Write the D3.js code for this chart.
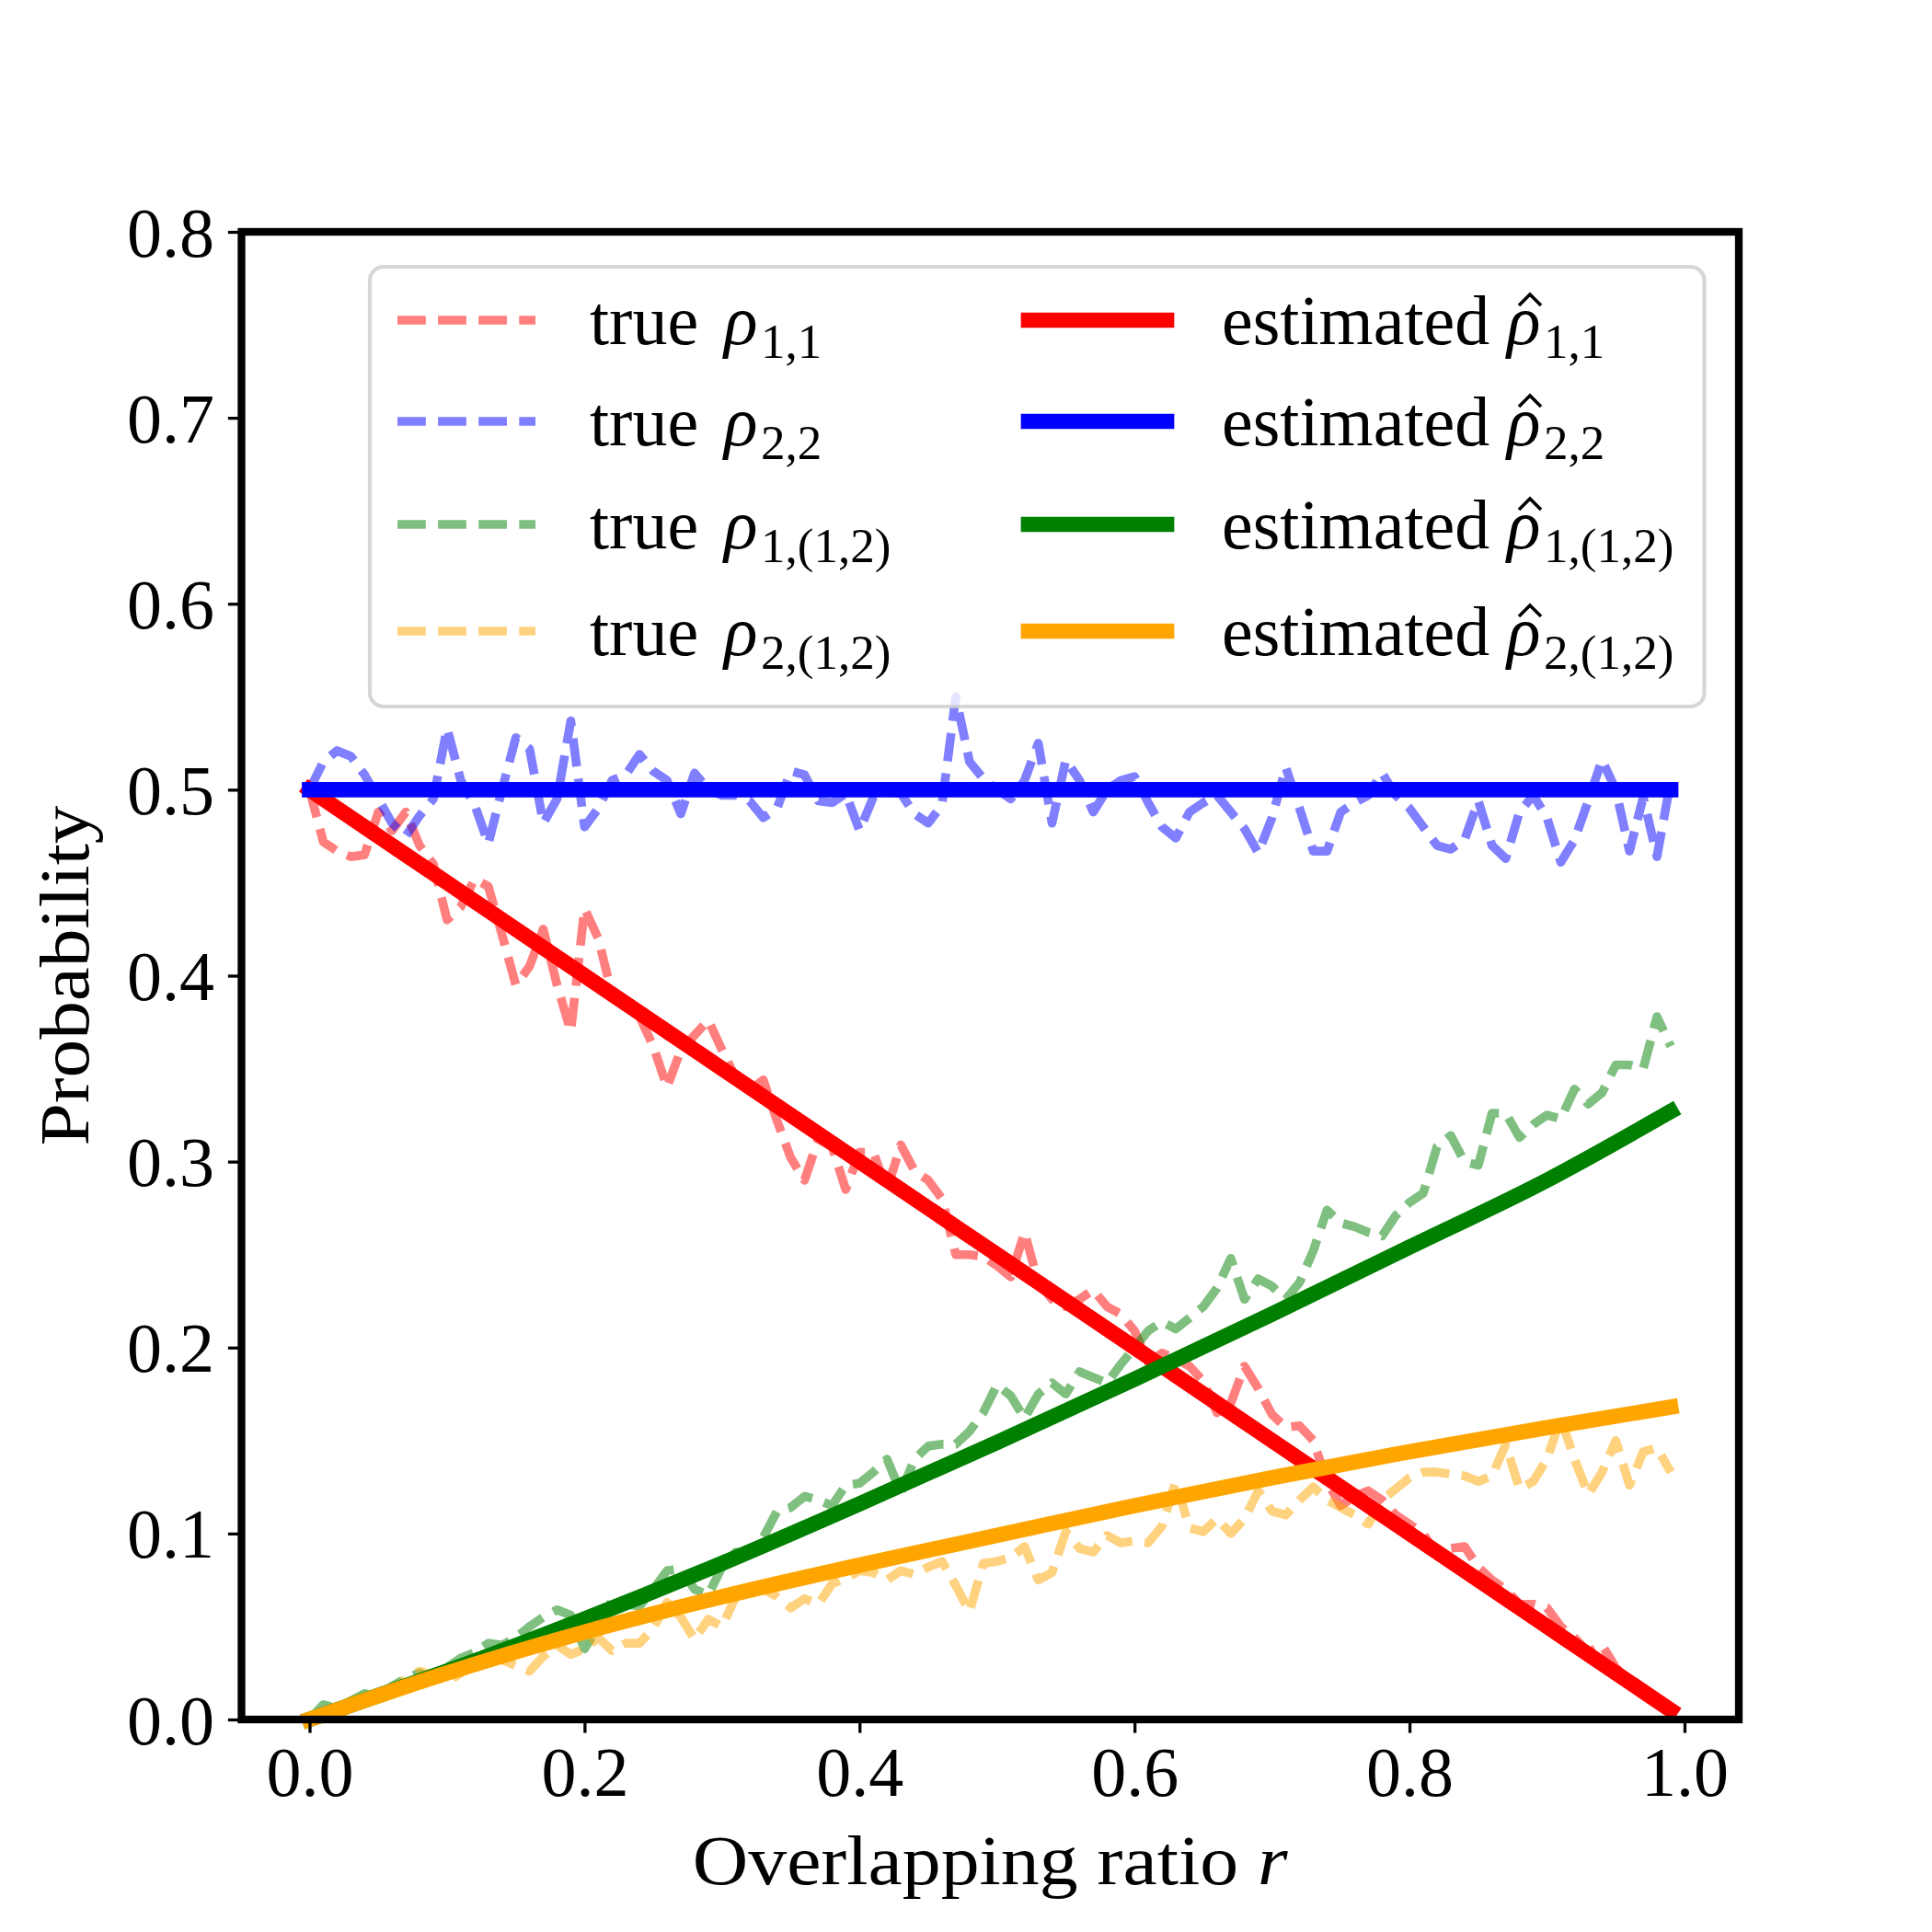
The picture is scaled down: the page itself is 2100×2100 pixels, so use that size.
<!DOCTYPE html>
<html>
<head>
<meta charset="utf-8">
<script src="https://cdn.jsdelivr.net/npm/d3@7"></script>
<style>
  html, body { margin: 0; padding: 0; background: #ffffff; }
  svg { display: block; }
</style>
</head>
<body>
<svg id="chart" width="2100" height="2100"></svg>
<script>
// ---------------- data ----------------
const ratioR = [0.00,0.01,0.02,0.03,0.04,0.05,0.06,0.07,0.08,0.09,
  0.10,0.11,0.12,0.13,0.14,0.15,0.16,0.17,0.18,0.19,
  0.20,0.21,0.22,0.23,0.24,0.25,0.26,0.27,0.28,0.29,
  0.30,0.31,0.32,0.33,0.34,0.35,0.36,0.37,0.38,0.39,
  0.40,0.41,0.42,0.43,0.44,0.45,0.46,0.47,0.48,0.49,
  0.50,0.51,0.52,0.53,0.54,0.55,0.56,0.57,0.58,0.59,
  0.60,0.61,0.62,0.63,0.64,0.65,0.66,0.67,0.68,0.69,
  0.70,0.71,0.72,0.73,0.74,0.75,0.76,0.77,0.78,0.79,
  0.80,0.81,0.82,0.83,0.84,0.85,0.86,0.87,0.88,0.89,
  0.90,0.91,0.92,0.93,0.94,0.95,0.96,0.97,0.98,0.99];

const trueRho11 = [0.500,0.472,0.467,0.464,0.465,0.488,0.478,0.488,0.470,0.460,
  0.430,0.437,0.452,0.448,0.422,0.395,0.405,0.425,0.395,0.370,
  0.436,0.420,0.390,0.386,0.378,0.362,0.340,0.360,0.368,0.376,
  0.360,0.345,0.338,0.344,0.322,0.302,0.290,0.312,0.308,0.285,
  0.305,0.305,0.285,0.309,0.295,0.290,0.280,0.250,0.250,0.249,
  0.244,0.238,0.262,0.235,0.226,0.222,0.226,0.231,0.222,0.218,
  0.209,0.192,0.197,0.194,0.190,0.182,0.165,0.170,0.190,0.178,
  0.164,0.157,0.158,0.150,0.128,0.115,0.120,0.123,0.118,0.110,
  0.105,0.100,0.088,0.092,0.093,0.082,0.075,0.070,0.062,0.062,
  0.060,0.050,0.044,0.036,0.040,0.028,0.020,0.014,0.008,0.004];

const trueRho22 = [0.500,0.515,0.521,0.518,0.508,0.495,0.482,0.475,0.486,0.495,
  0.533,0.505,0.492,0.471,0.500,0.528,0.522,0.482,0.495,0.537,
  0.480,0.490,0.505,0.508,0.519,0.510,0.505,0.487,0.509,0.500,
  0.497,0.497,0.494,0.485,0.490,0.510,0.508,0.494,0.493,0.498,
  0.478,0.496,0.499,0.498,0.487,0.482,0.492,0.550,0.515,0.506,
  0.500,0.495,0.505,0.525,0.482,0.516,0.505,0.488,0.500,0.505,
  0.507,0.493,0.480,0.474,0.488,0.493,0.497,0.488,0.479,0.466,
  0.485,0.512,0.490,0.467,0.467,0.488,0.493,0.497,0.509,0.497,
  0.490,0.480,0.470,0.468,0.473,0.494,0.470,0.463,0.488,0.497,
  0.485,0.461,0.473,0.494,0.516,0.500,0.467,0.496,0.464,0.505];

const trueRho1_12 = [0.000,0.008,0.006,0.010,0.014,0.012,0.018,0.022,0.025,0.022,
  0.028,0.033,0.036,0.041,0.040,0.044,0.050,0.055,0.059,0.056,
  0.038,0.050,0.064,0.062,0.061,0.070,0.080,0.081,0.070,0.067,
  0.082,0.090,0.089,0.098,0.112,0.114,0.120,0.118,0.115,0.126,
  0.127,0.133,0.140,0.122,0.140,0.147,0.148,0.148,0.155,0.165,
  0.180,0.174,0.162,0.175,0.181,0.175,0.187,0.184,0.181,0.191,
  0.200,0.209,0.214,0.210,0.216,0.222,0.232,0.248,0.226,0.237,
  0.233,0.226,0.235,0.252,0.274,0.267,0.265,0.262,0.260,0.271,
  0.278,0.283,0.308,0.314,0.300,0.298,0.326,0.326,0.313,0.320,
  0.325,0.323,0.339,0.331,0.337,0.352,0.352,0.350,0.378,0.362];

const trueRho2_12 = [0.000,0.003,0.006,0.010,0.012,0.010,0.014,0.022,0.026,0.024,
  0.020,0.025,0.030,0.033,0.032,0.029,0.026,0.034,0.040,0.035,
  0.038,0.044,0.037,0.041,0.041,0.049,0.063,0.055,0.043,0.054,
  0.050,0.066,0.068,0.070,0.066,0.060,0.065,0.062,0.073,0.076,
  0.080,0.079,0.075,0.080,0.078,0.082,0.085,0.072,0.058,0.084,
  0.085,0.087,0.093,0.075,0.079,0.101,0.092,0.090,0.099,0.095,
  0.096,0.095,0.104,0.128,0.103,0.101,0.108,0.100,0.108,0.123,
  0.112,0.110,0.118,0.125,0.118,0.114,0.110,0.105,0.118,0.124,
  0.130,0.133,0.133,0.132,0.131,0.128,0.131,0.148,0.124,0.128,
  0.140,0.162,0.140,0.121,0.133,0.150,0.126,0.144,0.146,0.133];

const estR        = [0.00, 0.10, 0.20, 0.30, 0.40, 0.50, 0.60, 0.70, 0.80, 0.90, 0.99];
const estRho11    = [0.500,0.450,0.400,0.350,0.300,0.250,0.200,0.150,0.100,0.050,0.005];
const estRho22    = [0.500,0.500,0.500,0.500,0.500,0.500,0.500,0.500,0.500,0.500,0.500];
const estRho1_12  = [0.000,0.026,0.054,0.084,0.116,0.149,0.183,0.218,0.254,0.290,0.327];
const estRho2_12  = [0.000,0.025,0.047,0.066,0.083,0.099,0.115,0.130,0.144,0.157,0.168];

const xTicks = [0.0, 0.2, 0.4, 0.6, 0.8, 1.0];
const yTicks = [0.0, 0.1, 0.2, 0.3, 0.4, 0.5, 0.6, 0.7, 0.8];
const xLabelRoman = "Overlapping ratio ";
const xLabelItalic = "r";
const yLabel = "Probability";

const seriesColors = ["#ff0000", "#0000ff", "#008000", "#ffa500"];
const subs = ["1,1", "2,2", "1,(1,2)", "2,(1,2)"];

(function draw() {
  const FONT = "'Liberation Serif', 'DejaVu Serif', serif";
  const FS = 76, SUBFS = 53;
  const pL = 262.5, pR = 1890, pT = 252, pB = 1869;
  const svg = d3.select("#chart");

  const x = d3.scaleLinear().domain([-0.0495, 1.0395]).range([pL, pR]);
  const y = d3.scaleLinear().domain([0, 0.8]).range([pB, pT]);
  const line = d3.line().x(d => x(d[0])).y(d => y(d[1]));
  const smooth = d3.line().x(d => x(d[0])).y(d => y(d[1])).curve(d3.curveMonotoneX);

  const trueSeries = [trueRho11, trueRho22, trueRho1_12, trueRho2_12];
  const estSeries = [estRho11, estRho22, estRho1_12, estRho2_12];

  const plot = svg.append("g");
  trueSeries.forEach((vals, i) => {
    plot.append("path")
      .attr("d", line(ratioR.map((r, k) => [r, vals[k]])))
      .attr("fill", "none")
      .attr("stroke", seriesColors[i])
      .attr("stroke-opacity", 0.5)
      .attr("stroke-width", 9.6)
      .attr("stroke-dasharray", "30.8,13.3")
      .attr("stroke-linecap", "butt")
      .attr("stroke-linejoin", "round");
  });
  estSeries.forEach((vals, i) => {
    plot.append("path")
      .attr("d", smooth(estR.map((r, k) => [r, vals[k]])))
      .attr("fill", "none")
      .attr("stroke", seriesColors[i])
      .attr("stroke-width", 16.7)
      .attr("stroke-linecap", "square")
      .attr("stroke-linejoin", "round");
  });

  // axes
  const xAxis = svg.append("g").attr("transform", `translate(0,${pB})`)
    .call(d3.axisBottom(x).tickValues(xTicks).tickSize(14.6).tickPadding(0).tickFormat(d3.format(".1f")));
  const yAxis = svg.append("g").attr("transform", `translate(${pL},0)`)
    .call(d3.axisLeft(y).tickValues(yTicks).tickSize(14.6).tickPadding(0).tickFormat(d3.format(".1f")));
  [xAxis, yAxis].forEach(g => {
    g.select(".domain").remove();
    g.selectAll(".tick line").attr("stroke", "#000").attr("stroke-width", 3.3);
    g.selectAll(".tick text").attr("font-family", FONT).attr("font-size", FS).attr("fill", "#000");
  });
  xAxis.selectAll(".tick text").attr("y", 83).attr("dy", null).attr("text-anchor", "middle");
  yAxis.selectAll(".tick text").attr("x", -29.5).attr("dy", 26).attr("y", 0).attr("text-anchor", "end");

  // spines
  svg.append("rect")
    .attr("x", pL).attr("y", pT)
    .attr("width", pR - pL).attr("height", pB - pT)
    .attr("fill", "none").attr("stroke", "#000").attr("stroke-width", 8.33);

  // axis labels
  const xl = svg.append("text")
    .attr("x", (pL + pR) / 2).attr("y", 2048)
    .attr("text-anchor", "middle")
    .attr("font-family", FONT).attr("font-size", FS)
    .attr("textLength", 647).attr("lengthAdjust", "spacingAndGlyphs");
  xl.append("tspan").text(xLabelRoman);
  xl.append("tspan").attr("font-style", "italic").text(xLabelItalic);

  svg.append("text")
    .attr("transform", `translate(96,${(pT + pB) / 2}) rotate(-90)`)
    .attr("text-anchor", "middle")
    .attr("font-family", FONT).attr("font-size", FS)
    .attr("textLength", 370).attr("lengthAdjust", "spacingAndGlyphs")
    .text(yLabel);

  // legend
  const leg = svg.append("g");
  leg.append("rect")
    .attr("x", 402).attr("y", 290)
    .attr("width", 1852.5 - 402).attr("height", 768 - 290)
    .attr("rx", 15).attr("ry", 15)
    .attr("fill", "#ffffff").attr("fill-opacity", 0.8)
    .attr("stroke", "#cccccc").attr("stroke-opacity", 0.8).attr("stroke-width", 4.2);

  const rowY = [348, 458, 570, 686];
  subs.forEach((s, i) => {
    const ly = rowY[i];
    const base = ly + 26;
    leg.append("line")
      .attr("x1", 432).attr("x2", 582).attr("y1", ly).attr("y2", ly)
      .attr("stroke", seriesColors[i]).attr("stroke-opacity", 0.5)
      .attr("stroke-width", 9.6).attr("stroke-dasharray", "30.8,13.3");
    const t1 = leg.append("text").attr("y", base)
      .attr("font-family", FONT).attr("font-size", FS).attr("fill", "#000");
    t1.append("tspan").attr("x", 641).text("true");
    t1.append("tspan").attr("x", 787).attr("font-style", "italic").text("ρ");
    t1.append("tspan").attr("x", 827).attr("dy", 15).attr("font-size", SUBFS).text(s);

    leg.append("line")
      .attr("x1", 1118).attr("x2", 1268).attr("y1", ly).attr("y2", ly)
      .attr("stroke", seriesColors[i]).attr("stroke-width", 16.7)
      .attr("stroke-linecap", "square");
    const t2 = leg.append("text").attr("y", base)
      .attr("font-family", FONT).attr("font-size", FS).attr("fill", "#000");
    t2.append("tspan").attr("x", 1328).text("estimated");
    t2.append("tspan").attr("x", 1638).attr("font-style", "italic").text("ρ");
    t2.append("tspan").attr("x", 1678).attr("dy", 15).attr("font-size", SUBFS).text(s);
    // hat accent over rho
    const cx = 1663;
    leg.append("path")
      .attr("d", `M${cx - 12},${base - 42} L${cx},${base - 54} L${cx + 12},${base - 42}`)
      .attr("fill", "none").attr("stroke", "#000").attr("stroke-width", 3.6)
      .attr("stroke-linejoin", "miter");
  });
})();
</script>
</body>
</html>
